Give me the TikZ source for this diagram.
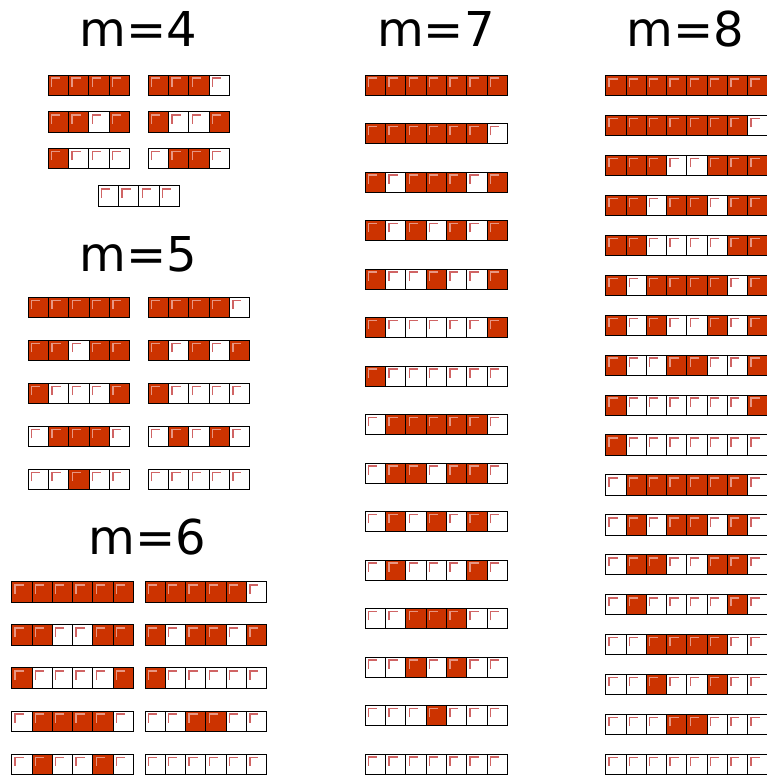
\documentclass[tikz,border=0pt]{standalone}
\usepackage{fontspec}
\setsansfont{DejaVu Sans}
\usetikzlibrary{positioning}
\usepackage{xcolor}
\definecolor{beadcolor}{RGB}{204, 51, 0}
\definecolor{shineon}{RGB}{232, 150, 130}
\definecolor{shineoff}{RGB}{208, 100, 100}

\tikzset{
  bead/.style={draw=black, line width=0.9pt},
  shine/.style={line width=1.5pt},
  title/.style={anchor=base, inner sep=0pt, font=\sffamily\fontsize{48}{48}\selectfont}
}

\newcommand{\beadrow}[3]{%
  \foreach \bit [count=\pos from 0] in #3 {
    \ifnum\bit=1 \def\beadfill{beadcolor}\def\beadshine{shineon}%
    \else \def\beadfill{white}\def\beadshine{shineoff}\fi
    \draw[bead, fill=\beadfill] ({#1+\pos*20.3},{#2}) rectangle ++(20.3,20.3);
    \draw[shine, draw=\beadshine] ({#1+\pos*20.3+3.4},{#2+11.8}) |- ++(8.5,-8.6);
  }}

\begin{document}
\begin{tikzpicture}[x=1pt, y=-1pt]
  \useasboundingbox (0,0) rectangle (767,776);

  \node[title] (m4) at (138.5,47) {m=4};
  \node[title] (m5) at (138.5,271) {m=5};
  \node[title] (m6) at (147.5,554) {m=6};
  \node[title] (m7) at (436,47) {m=7};
  \node[title] (m8) at (685,47) {m=8};

  \foreach \r [count=\k from 0] in {{1,1,1,1},{1,1,0,1},{1,0,0,0}}
    {\beadrow{48.3}{75+\k*36.7}{\r}}
  \foreach \r [count=\k from 0] in {{1,1,1,0},{1,0,0,1},{0,1,1,0}}
    {\beadrow{148.3}{75+\k*36.7}{\r}}
  \beadrow{98.3}{185.7}{{0,0,0,0}}

  \foreach \r [count=\k from 0] in {{1,1,1,1,1},{1,1,0,1,1},{1,0,0,0,1},{0,1,1,1,0},{0,0,1,0,0}}
    {\beadrow{28.3}{297.3+\k*43}{\r}}
  \foreach \r [count=\k from 0] in {{1,1,1,1,0},{1,0,1,0,1},{1,0,0,0,0},{0,1,0,1,0},{0,0,0,0,0}}
    {\beadrow{148.3}{297.3+\k*43}{\r}}

  \foreach \r [count=\k from 0] in {{1,1,1,1,1,1},{1,1,0,0,1,1},{1,0,0,0,0,1},{0,1,1,1,1,0},{0,1,0,0,1,0}}
    {\beadrow{11.7}{581.7+\k*43.1}{\r}}
  \foreach \r [count=\k from 0] in {{1,1,1,1,1,0},{1,0,1,1,0,1},{1,0,0,0,0,0},{0,0,1,1,0,0},{0,0,0,0,0,0}}
    {\beadrow{145}{581.7+\k*43.1}{\r}}

  \foreach \r [count=\k from 0] in {{1,1,1,1,1,1,1},{1,1,1,1,1,1,0},{1,0,1,1,1,0,1},
      {1,0,1,0,1,0,1},{1,0,0,1,0,0,1},{1,0,0,0,0,0,1},{1,0,0,0,0,0,0},{0,1,1,1,1,1,0},
      {0,1,1,0,1,1,0},{0,1,0,1,0,1,0},{0,1,0,0,0,1,0},{0,0,1,1,1,0,0},{0,0,1,0,1,0,0},
      {0,0,0,1,0,0,0},{0,0,0,0,0,0,0}}
    {\beadrow{365.3}{75+\k*48.5}{\r}}

  \foreach \r [count=\k from 0] in {{1,1,1,1,1,1,1,1},{1,1,1,1,1,1,1,0},{1,1,1,0,0,1,1,1},
      {1,1,0,1,1,0,1,1},{1,1,0,0,0,0,1,1},{1,0,1,1,1,1,0,1},{1,0,1,0,0,1,0,1},
      {1,0,0,1,1,0,0,1},{1,0,0,0,0,0,0,1},{1,0,0,0,0,0,0,0},{0,1,1,1,1,1,1,0},
      {0,1,0,1,1,0,1,0},{0,1,1,0,0,1,1,0},{0,1,0,0,0,0,1,0},{0,0,1,1,1,1,0,0},
      {0,0,1,0,0,1,0,0},{0,0,0,1,1,0,0,0},{0,0,0,0,0,0,0,0}}
    {\beadrow{605.7}{75.6+\k*39.92}{\r}}
\end{tikzpicture}
\end{document}
